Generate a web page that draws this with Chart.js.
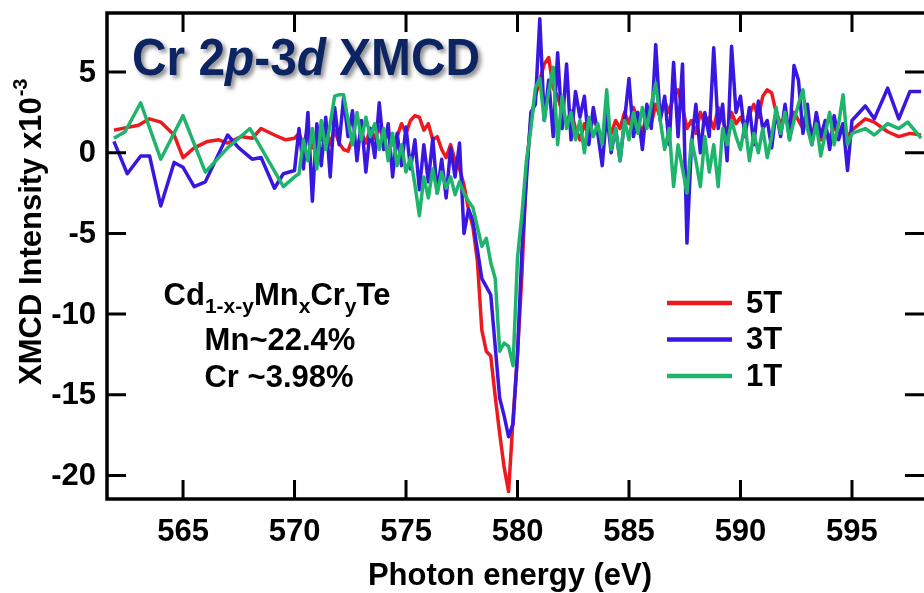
<!DOCTYPE html>
<html>
<head>
<meta charset="utf-8">
<script src="https://cdn.jsdelivr.net/npm/chart.js@4.4.1/dist/chart.umd.min.js"></script>
<style>
  html, body { margin: 0; padding: 0; background: #fff; }
  #wrap { width: 924px; height: 593px; position: relative; }
</style>
</head>
<body>
<div id="wrap"><canvas id="xmcd"></canvas></div>
<script>
// tick labels
const xTickValues = [565, 570, 575, 580, 585, 590, 595];
const yTickValues = [5, 0, -5, -10, -15, -20];

// coarse scans below 570 eV (each field read separately)
const coarseEnergy5T = [561.9, 563.0, 563.5, 564.0, 564.6, 565.0, 565.5, 566.1, 566.6, 567.0, 567.6, 568.1, 568.5, 569.1, 569.6, 570.0];
const coarseXmcd5T = [1.4, 1.7, 2.1, 1.9, 1.1, -0.3, 0.3, 0.7, 0.8, 0.6, 1.0, 0.9, 1.5, 1.1, 0.8, 0.9];
const coarseEnergy3T = [561.9, 562.5, 563.1, 563.5, 564.0, 564.6, 565.0, 565.5, 566.0, 567.0, 567.5, 568.1, 568.5, 569.1, 569.5, 570.0];
const coarseXmcd3T = [0.7, -1.3, -0.2, -0.2, -3.3, -0.6, -0.9, -2.1, -1.8, 1.1, 0.3, -0.4, -0.3, -2.2, -1.3, -1.1];
const coarseEnergy1T = [561.9, 562.4, 563.1, 564.0, 565.0, 566.0, 567.0, 568.0, 568.5, 569.5, 570.0];
const coarseXmcd1T = [0.9, 1.3, 3.1, -0.4, 2.3, -1.2, 0.3, 1.5, 0.3, -2.1, -1.5];

// fine scan across the L3 edge, 570.2 - 595.0 eV
const fineEnergy = [
  570.2, 570.4, 570.6, 570.8, 571.0, 571.2, 571.4, 571.6, 571.8, 572.0,
  572.2, 572.4, 572.6, 572.8, 573.0, 573.2, 573.4, 573.6, 573.8, 574.0,
  574.2, 574.4, 574.6, 574.8, 575.0, 575.2, 575.4, 575.6, 575.8, 576.0,
  576.2, 576.4, 576.6, 576.8, 577.0, 577.2, 577.4, 577.6, 577.8, 578.0,
  578.2, 578.4, 578.6, 578.8, 579.0, 579.2, 579.4, 579.6, 579.8, 580.0,
  580.2, 580.4, 580.6, 580.8, 581.0, 581.2, 581.4, 581.6, 581.8, 582.0,
  582.2, 582.4, 582.6, 582.8, 583.0, 583.2, 583.4, 583.6, 583.8, 584.0,
  584.2, 584.4, 584.6, 584.8, 585.0, 585.2, 585.4, 585.6, 585.8, 586.0,
  586.2, 586.4, 586.6, 586.8, 587.0, 587.2, 587.4, 587.6, 587.8, 588.0,
  588.2, 588.4, 588.6, 588.8, 589.0, 589.2, 589.4, 589.6, 589.8, 590.0,
  590.2, 590.4, 590.6, 590.8, 591.0, 591.2, 591.4, 591.6, 591.8, 592.0,
  592.2, 592.4, 592.6, 592.8, 593.0, 593.2, 593.4, 593.6, 593.8, 594.0,
  594.2, 594.4, 594.6, 594.8, 595.0
];
const fineXmcd5T = [
  1.2, 0.5, 1.5, 0.3, 1.2, 0.8, 1.8, 0.5, 1.4, 0.6,
  0.2, 0.1, 0.9, 0.4, 1.2, 0.6, 1.5, 0.9, 1.6, 0.8,
  1.3, 0.5, 1.0, 1.8, 1.2, 2.0, 2.3, 2.2, 1.4, 1.8,
  0.8, 1.0, 0.2, -0.3, 0.5, -0.5, -1.0, -2.0, -3.5, -4.6,
  -6.7, -11.0, -12.3, -12.6, -15.1, -17.4, -19.5, -21.0, -16.5, -12.5,
  -7.5, -1.0, 2.0, 3.5, 4.5, 5.5, 5.9, 4.0, 3.5, 2.5,
  1.8, 2.6, 1.5, 0.8, 1.8, 1.0, 2.2, 1.5, 0.9, 1.8,
  1.2, 2.0, 1.5, 2.5, 1.8, 2.8, 2.0, 1.2, 2.4, 1.8,
  3.0, 2.2, 3.2, 2.5, 3.5, 3.9, 2.8, 1.5, 2.0, 1.2,
  2.5, 1.8, 2.2, 1.5, 2.8, 2.0, 1.2, 2.5, 1.8, 2.2,
  1.6, 2.4, 3.0, 2.2, 3.5, 3.9, 3.7, 2.5, 1.8, 2.2,
  1.5, 2.5, 2.0, 1.5, 2.2, 1.2, 1.8, 0.8, 1.5, 0.9,
  1.6, 1.1, 1.8, 1.0, 1.4
];
const fineXmcd3T = [
  1.5, -1.0, 2.5, -3.0, 1.8, -0.8, 2.2, -1.5, 2.8, 0.5,
  3.4, 1.0, 2.6, -0.5, 2.0, -1.2, 1.5, -0.3, 3.1, 0.2,
  1.8, -1.5, 1.2, -0.8, 1.6, -1.0, 0.8, -2.3, 0.5, -1.8,
  0.9, -2.5, -0.4, -2.8, 0.3, -1.5, 0.6, -5.0, -3.5, -4.2,
  -6.0, -7.8, -8.3, -8.8, -12.0, -15.2, -16.3, -17.6, -16.8, -12.5,
  -6.0, -1.7, 2.5, 3.0, 8.3, 2.0, 4.5, 1.0, 6.2, 1.5,
  5.5, 0.8, 3.8, 2.2, 3.5, 0.5, 2.8, 1.2, -0.8, 2.5,
  0.0, 1.5, -0.5, 2.0, 4.6, 1.0, 2.5, 0.2, 3.0, 1.5,
  6.7, 2.0, 3.5, 0.5, 5.6, 1.0, 5.5, -5.6, 0.5, 3.0,
  0.0, 2.5, 1.0, 6.5, 1.5, 3.0, -0.5, 6.6, 2.5, 3.5,
  1.0, 2.8, 0.5, 3.2, 1.5, 2.0, 0.3, 2.6, 1.0, 3.0,
  0.8, 5.4, 4.5, 1.2, 3.0, 0.5, 2.5, 1.0, 2.0, 0.2,
  2.3, 0.8, 1.8, -1.1, 2.0
];
const fineXmcd1T = [
  -1.3, 0.8, -0.5, 1.5, -1.0, 2.0, 0.2, 1.8, 3.5, 3.6,
  3.6, 2.0, 0.5, 2.5, 0.8, 2.2, 1.0, 1.8, 0.2, 1.5,
  -0.5, 1.2, -0.8, 0.5, -1.2, -0.3, -2.0, -3.9, -1.5, -2.8,
  -1.0, -2.5, -1.2, -2.2, -1.5, -2.6, -1.8, -2.5, -3.0, -3.4,
  -4.6, -5.8, -5.3, -6.8, -7.8, -12.3, -11.8, -12.0, -13.2, -6.5,
  -3.8, -0.5, 1.5, 4.0, 4.6, 2.0, 3.8, 5.3, 0.5, 3.5,
  1.5, 2.5, 0.8, 2.0, 0.0, 2.2, 1.0, 1.8, 0.5, 3.9,
  0.2, 1.5, -0.5, 2.0, 0.8, 2.5, 1.2, 2.8, 1.5, 3.0,
  4.3, 2.0, 0.2, 1.5, -2.1, 0.5, -1.0, -2.5, 0.8, -0.5,
  -2.1, 1.0, -1.2, 0.5, -2.1, 1.5, 0.5, 2.0, 1.0, 0.2,
  1.8, -0.5, 1.2, 0.0, 1.5, -0.3, 1.0, 2.8, 1.2, 2.5,
  0.8, 2.0, 3.0, 3.9, 1.5, 0.5, 1.8, -0.2, 1.2, 2.5,
  0.5, 1.8, 3.6, 0.5, 1.2
];

// coarse tail above 595 eV
const tailEnergy5T = [595.6, 596.0, 596.6, 597.1, 597.6, 598.1];
const tailXmcd5T = [2.1, 1.9, 1.3, 1.0, 1.2, 1.1];
const tailEnergy3T = [595.6, 596.0, 596.6, 597.1, 597.6, 598.1];
const tailXmcd3T = [2.9, 2.1, 4.0, 2.1, 3.8, 3.8];
const tailEnergy1T = [595.6, 596.0, 596.6, 597.1, 597.5, 598.1];
const tailXmcd1T = [1.5, 1.1, 1.8, 1.5, 1.9, 0.9];

const seriesNames = ['5T', '3T', '1T'];
const seriesColors = ['#ec1a1f', '#3a17e0', '#1fb46c'];

function toPoints(xs, ys) {
    return xs.map((x, i) => ({ x, y: ys[i] }));
}

const data5T = [
    ...toPoints(coarseEnergy5T, coarseXmcd5T),
    ...toPoints(fineEnergy, fineXmcd5T),
    ...toPoints(tailEnergy5T, tailXmcd5T),
];
const data3T = [
    ...toPoints(coarseEnergy3T, coarseXmcd3T),
    ...toPoints(fineEnergy, fineXmcd3T),
    ...toPoints(tailEnergy3T, tailXmcd3T),
];
const data1T = [
    ...toPoints(coarseEnergy1T, coarseXmcd1T),
    ...toPoints(fineEnergy, fineXmcd1T),
    ...toPoints(tailEnergy1T, tailXmcd1T),
];

const FONT = '"Liberation Sans", Arial, sans-serif';

// frame, ticks, labels, legend and annotations
const decorations = {
    id: 'decorations',
    afterDraw(chart) {
        const { ctx, chartArea: a } = chart;
        const xs = chart.scales.x;
        const ys = chart.scales.y;
        ctx.save();

        ctx.strokeStyle = '#000';
        ctx.lineWidth = 3.5;
        ctx.beginPath();
        ctx.moveTo(a.right + 10, a.top);
        ctx.lineTo(a.left, a.top);
        ctx.lineTo(a.left, a.bottom);
        ctx.lineTo(a.right + 10, a.bottom);
        ctx.stroke();

        ctx.lineWidth = 3;
        ctx.beginPath();
        xTickValues.forEach(v => {
            const px = xs.getPixelForValue(v);
            ctx.moveTo(px, a.bottom);
            ctx.lineTo(px, a.bottom - 19);
            ctx.moveTo(px, a.top);
            ctx.lineTo(px, a.top + 19);
        });
        yTickValues.forEach(v => {
            const py = ys.getPixelForValue(v);
            ctx.moveTo(a.left, py);
            ctx.lineTo(a.left + 19, py);
            ctx.moveTo(a.right, py);
            ctx.lineTo(a.right - 19, py);
        });
        ctx.stroke();

        ctx.fillStyle = '#000';
        ctx.font = 'bold 31px ' + FONT;
        ctx.textAlign = 'center';
        ctx.textBaseline = 'middle';
        xTickValues.forEach(v => {
            ctx.fillText(String(v), xs.getPixelForValue(v), 532);
        });
        ctx.textAlign = 'right';
        yTickValues.forEach(v => {
            ctx.fillText(String(v), 96, ys.getPixelForValue(v) + 1);
        });

        // axis titles
        ctx.textAlign = 'center';
        ctx.textBaseline = 'alphabetic';
        ctx.font = 'bold 31px ' + FONT;
        ctx.fillText('Photon energy (eV)', 510, 585);

        ctx.save();
        ctx.translate(41, 385);
        ctx.rotate(-Math.PI / 2);
        ctx.textAlign = 'left';
        ctx.font = 'bold 31px ' + FONT;
        const yTitle = 'XMCD Intensity x10';
        ctx.fillText(yTitle, 0, 0);
        const tw = ctx.measureText(yTitle).width;
        ctx.font = 'bold 20px ' + FONT;
        ctx.fillText('-3', tw + 1, -14);
        ctx.restore();

        // legend
        ctx.lineWidth = 4.5;
        seriesNames.forEach((name, i) => {
            const y = 303 + i * 36.5;
            ctx.strokeStyle = seriesColors[i];
            ctx.beginPath();
            ctx.moveTo(667, y);
            ctx.lineTo(732, y);
            ctx.stroke();
            ctx.fillStyle = '#000';
            ctx.font = 'bold 31px ' + FONT;
            ctx.textAlign = 'left';
            ctx.textBaseline = 'middle';
            ctx.fillText(name, 746, y + 1);
        });

        // sample composition
        ctx.fillStyle = '#000';
        ctx.textBaseline = 'alphabetic';
        const parts = [
            ['Cd', 0], ['1-x-y', 1], ['Mn', 0], ['x', 1], ['Cr', 0], ['y', 1], ['Te', 0],
        ];
        const mainFont = 'bold 31px ' + FONT;
        const subFont = 'bold 21px ' + FONT;
        let total = 0;
        parts.forEach(([t, sub]) => {
            ctx.font = sub ? subFont : mainFont;
            total += ctx.measureText(t).width;
        });
        let cx = 277 - total / 2;
        ctx.textAlign = 'left';
        parts.forEach(([t, sub]) => {
            ctx.font = sub ? subFont : mainFont;
            ctx.fillText(t, cx, sub ? 313 : 305);
            cx += ctx.measureText(t).width;
        });
        ctx.textAlign = 'center';
        ctx.font = mainFont;
        ctx.fillText('Mn~22.4%', 280, 350);
        ctx.fillText('Cr ~3.98%', 279, 387);

        // title with shadow
        const titleParts = [
            ['Cr 2', false], ['p', true], ['-3', false], ['d', true], [' XMCD', false],
        ];
        const tf = it => (it ? 'italic ' : '') + 'bold 52px ' + FONT;
        let tWidth = 0;
        titleParts.forEach(([t, it]) => {
            ctx.font = tf(it);
            tWidth += ctx.measureText(t).width;
        });
        ctx.save();
        ctx.translate(132, 75);
        ctx.scale(348 / tWidth, 1);
        ctx.shadowColor = 'rgba(0, 0, 0, 0.45)';
        ctx.shadowOffsetX = 3;
        ctx.shadowOffsetY = 3;
        ctx.shadowBlur = 4;
        ctx.fillStyle = '#0c2462';
        ctx.textAlign = 'left';
        let tx = 0;
        titleParts.forEach(([t, it]) => {
            ctx.font = tf(it);
            ctx.fillText(t, tx, 0);
            tx += ctx.measureText(t).width;
        });
        ctx.restore();

        ctx.restore();
    },
};

new Chart(document.getElementById('xmcd'), {
    type: 'line',
    data: {
        datasets: [
            { label: seriesNames[0], data: data5T, borderColor: seriesColors[0], order: 2 },
            { label: seriesNames[1], data: data3T, borderColor: seriesColors[1], order: 1 },
            { label: seriesNames[2], data: data1T, borderColor: seriesColors[2], order: 0 },
        ],
    },
    options: {
        responsive: true,
        maintainAspectRatio: false,
        animation: false,
        layout: { padding: { left: 107, top: 13, right: 0, bottom: 94 } },
        elements: {
            line: { borderWidth: 3.5, tension: 0, borderJoinStyle: 'round' },
            point: { radius: 0 },
        },
        plugins: {
            legend: { display: false },
            tooltip: { enabled: false },
        },
        scales: {
            x: { type: 'linear', min: 561.59, max: 598.23, display: false },
            y: { type: 'linear', min: -21.46, max: 8.66, display: false },
        },
    },
    plugins: [decorations],
});
</script>
</body>
</html>
